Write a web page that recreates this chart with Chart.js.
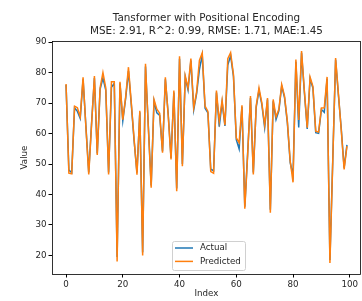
<!DOCTYPE html>
<html lang="en">
<head>
<meta charset="UTF-8">
<title>Tansformer with Positional Encoding</title>
<script src="https://cdn.jsdelivr.net/npm/chart.js@4.4.0/dist/chart.umd.min.js"></script>
<style>
  html, body { margin: 0; padding: 0; background: #fff; }
  #wrap { width: 362px; height: 301px; }
</style>
</head>
<body>
<div id="wrap"><canvas id="myChart" width="362" height="301"></canvas></div>
<script>
// values
const titleLines = ['Tansformer with Positional Encoding', 'MSE: 2.91, R^2: 0.99, RMSE: 1.71, MAE:1.45'];
const xTicks = [0, 20, 40, 60, 80, 100];
const yTicks = [20, 30, 40, 50, 60, 70, 80, 90];
const index = Array.from({length: 100}, (_, i) => i);

const actual = [
  76, 48, 47.2, 68.5, 67.3, 65, 77.8, 62.5, 47.2, 63.5,
  78.2, 53.5, 74.5, 78.2, 74.3, 47.2, 75.2, 76.5, 19.5, 76.5,
  64.2, 71.5, 80.5, 69.5, 57.5, 47.2, 67, 21, 82, 62.5,
  43, 70.6, 66.8, 66, 54.2, 77.8, 66.5, 52, 73.5, 42,
  84.6, 50, 78.5, 74.3, 84, 67.8, 73, 81, 85.8, 68.3,
  66.8, 48.3, 47.8, 73.5, 62.3, 70.3, 62.5, 82.5, 85.6, 78.8,
  58, 55, 68.8, 36, 53.5, 71.7, 47.2, 68.5, 74.2, 69.6,
  62, 71.2, 35, 70.6, 64.6, 67.5, 75.6, 71.8, 63.5, 50.5,
  46.3, 83.6, 62, 86.5, 73.5, 61.5, 78, 75, 60.3, 60.1,
  67.9, 67, 78, 18.5, 51.5, 84.2, 72.5, 61.5, 48.8, 56.3
];

const predicted = [
  76.3, 47, 46.8, 69, 68.5, 65.5, 78.5, 62, 46.6, 63,
  78.9, 53, 75, 80, 75, 46.6, 77, 77, 18, 77,
  64.6, 72, 81.8, 70, 58, 46.5, 67.5, 20, 82.9, 62,
  42.2, 71.2, 68, 66.7, 53.7, 78.5, 66, 51.5, 74.1, 41.1,
  85.4, 49.3, 79, 75, 84.6, 68.5, 73.5, 84, 86.5, 69,
  67.3, 47.5, 47, 74.1, 64, 70.9, 62.8, 84.6, 86.6, 79.4,
  58.6, 57, 69.3, 35.3, 53, 72.3, 46.6, 69, 75, 70.1,
  62.8, 71.7, 34, 71.2, 65.5, 68, 76.1, 72.3, 64, 51,
  44, 84.3, 64.5, 87.1, 74, 61.9, 78.6, 75.5, 60.8, 60.5,
  68.4, 68.5, 78.6, 17.5, 51, 84.8, 73, 61, 48.2, 55.9
];

const FONT = 'DejaVu Sans';
const TEXT = '#262626';

// title centred over the plot, axes box and legend inside the plot (matplotlib look)
const frameAndLegend = {
  id: 'frameAndLegend',
  afterDraw(chart) {
    const {ctx, chartArea: a} = chart;
    ctx.save();
    ctx.strokeStyle = '#000';
    ctx.lineWidth = 0.8;
    ctx.strokeRect(Math.round(a.left) + 0.5, Math.round(a.top) + 0.5,
                   Math.round(a.right - a.left) - 1, Math.round(a.bottom - a.top));

    // title
    const cx = (a.left + a.right) / 2;
    ctx.fillStyle = TEXT;
    ctx.font = '10.4px "' + FONT + '"';
    ctx.textAlign = 'center';
    ctx.textBaseline = 'middle';
    titleLines.forEach((t, k) => ctx.fillText(t, cx, 18 + k * 13.7));

    // legend
    const bx = 172, by = 241, bw = 73, bh = 29;
    ctx.fillStyle = 'rgba(255,255,255,0.8)';
    ctx.strokeStyle = '#d0d0d0';
    ctx.lineWidth = 1;
    ctx.beginPath();
    ctx.roundRect(bx + 0.5, by + 0.5, bw, bh, 2);
    ctx.fill();
    ctx.stroke();
    ctx.font = '8.7px "' + FONT + '"';
    ctx.textAlign = 'left';
    chart.data.datasets.forEach((ds, k) => {
      const y = by + 7 + k * 13.4;
      ctx.strokeStyle = ds.borderColor;
      ctx.lineWidth = 1.5;
      ctx.beginPath();
      ctx.moveTo(bx + 3, y);
      ctx.lineTo(bx + 21, y);
      ctx.stroke();
      ctx.fillStyle = TEXT;
      ctx.fillText(ds.label, bx + 28, y);
    });
    ctx.restore();
  }
};

const ctx = document.getElementById('myChart').getContext('2d');
const myChart = new Chart(ctx, {
  type: 'line',
  data: {
    datasets: [
      {
        label: 'Actual',
        data: index.map((x, i) => ({x: x, y: actual[i]})),
        borderColor: '#1f77b4',
        borderWidth: 1.5,
        pointRadius: 0,
        tension: 0,
        fill: false,
        order: 1
      },
      {
        label: 'Predicted',
        data: index.map((x, i) => ({x: x, y: predicted[i]})),
        borderColor: '#ff7f0e',
        borderWidth: 1.5,
        pointRadius: 0,
        tension: 0,
        fill: false,
        order: 0
      }
    ]
  },
  options: {
    responsive: false,
    animation: false,
    layout: { padding: { left: 0, right: 1, top: 41, bottom: 0 } },
    plugins: {
      legend: { display: false },
      tooltip: { enabled: false },
      title: { display: false }
    },
    scales: {
      x: {
        type: 'linear',
        min: -4.95,
        max: 103.95,
        afterBuildTicks: s => { s.ticks = xTicks.map(v => ({value: v})); },
        afterFit: s => { s.height = 27; },
        grid: { drawOnChartArea: false, drawTicks: true, tickLength: 3.5, color: '#000' },
        border: { display: false },
        ticks: { color: TEXT, font: { family: FONT, size: 8.7 }, padding: 2, maxRotation: 0 },
        title: { display: true, text: 'Index', color: TEXT, font: { family: FONT, size: 8.7 }, padding: { top: 0, bottom: 2 } }
      },
      y: {
        min: 13.9,
        max: 90.4,
        afterBuildTicks: s => { s.ticks = yTicks.map(v => ({value: v})); },
        afterFit: s => { s.width = 52; },
        grid: { drawOnChartArea: false, drawTicks: true, tickLength: 3.5, color: '#000' },
        border: { display: false },
        ticks: { color: TEXT, font: { family: FONT, size: 8.7 }, padding: 2 },
        title: { display: true, text: 'Value', color: TEXT, font: { family: FONT, size: 8.7 }, padding: { top: 20, bottom: 0 } }
      }
    }
  },
  plugins: [frameAndLegend]
});
</script>
</body>
</html>
